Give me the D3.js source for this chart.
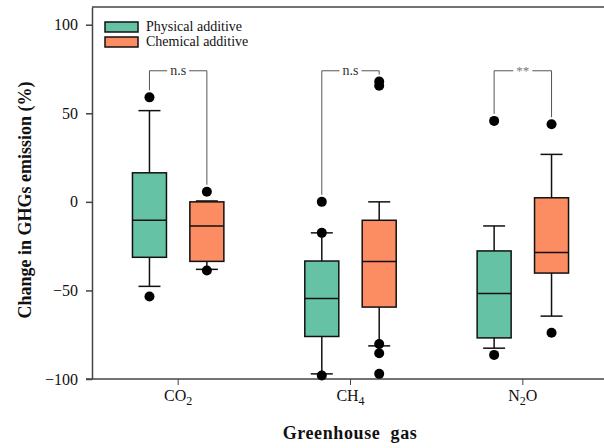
<!DOCTYPE html>
<html>
<head>
<meta charset="utf-8">
<script src="https://cdn.jsdelivr.net/npm/d3@7"></script>
<style>
  body { margin: 0; background: #fff; overflow: hidden; }
  svg { font-family: "Liberation Serif", "Times New Roman", serif; display: block; }
</style>
</head>
<body>
<div id="chart"></div>
<script>
// gases on the x axis
var gases = ['CO2', 'CH4', 'N2O'];
var gasLabels = [['CO', '2', ''], ['CH', '4', ''], ['N', '2', 'O']];
var treatments = ['Physical additive', 'Chemical additive'];
var colors = ['#66c2a5', '#fc8d62'];

// [lower whisker, q1, median, q3, upper whisker]
var physicalStats = [
    [-47.7, -31.3, -10.4, 16.4, 51.5],
    [-97.1, -76.0, -54.5, -33.4, -17.5],
    [-82.6, -76.8, -51.7, -27.7, -13.6]
];
var chemicalStats = [
    [-38.1, -33.6, -13.6, 0.0, 0.5],
    [-81.3, -59.4, -33.7, -10.4, 0.0],
    [-64.5, -40.2, -28.6, 2.3, 26.8]
];
var physicalOutliers = [[59, -53.4], [0, -17.5, -98], [45.7, -86.4]];
var chemicalOutliers = [[5.7, -38.7], [67.9, 65.5, -80.2, -85.5, -97.1], [43.8, -73.9]];
var significance = ['n.s', 'n.s', '**'];

var yTicks = [-100, -50, 0, 50, 100];

var width = 604, height = 448;
var svg = d3.select('#chart').append('svg')
    .attr('width', width)
    .attr('height', height);

var y = d3.scaleLinear().domain([-100, 110]).range([379, 7]);
var x = d3.scaleBand().domain(gases).range([92, 609]).padding(0);
var offset = d3.scaleOrdinal().domain(treatments).range([-28.7, 28.7]);
var boxW = 34, capW = 22;

// frame: only left, top and bottom lines, plot runs off the right edge
svg.append('path')
    .attr('d', 'M92,' + y(110) + 'H' + (width + 10))
    .attr('fill', 'none')
    .attr('stroke', '#444').attr('stroke-width', 1.5);

var yAxis = d3.axisLeft(y).tickValues(yTicks).tickSize(6).tickSizeOuter(0).tickPadding(8);
var gy = svg.append('g').attr('transform', 'translate(92,0)').call(yAxis);
gy.selectAll('path, line').attr('stroke', '#444').attr('stroke-width', 1.5);
gy.selectAll('text').attr('font-size', 16).attr('font-family', 'Liberation Serif').attr('fill', '#111');

var xAxis = d3.axisBottom(x).tickSize(6).tickSizeOuter(0).tickFormat('');
var gx = svg.append('g').attr('transform', 'translate(0,' + y(-100) + ')').call(xAxis);
gx.select('.domain').remove();
gx.selectAll('line').attr('stroke', '#444').attr('stroke-width', 1);
gx.append('path')
    .attr('d', 'M86,0H' + (width + 10))
    .attr('fill', 'none')
    .attr('stroke', '#444').attr('stroke-width', 1.5);

// tick labels with subscripts
var xl = svg.append('g').selectAll('text')
    .data(gases)
    .enter()
    .append('text')
    .attr('x', function(d) { return x(d) + x.bandwidth() / 2; })
    .attr('y', 401)
    .attr('text-anchor', 'middle')
    .attr('font-size', 16)
    .attr('fill', '#111');
xl.each(function(d, i) {
    var t = d3.select(this), parts = gasLabels[i];
    t.append('tspan').text(parts[0]);
    t.append('tspan').attr('font-size', 12).attr('dy', 4).text(parts[1]);
    if (parts[2]) t.append('tspan').attr('dy', -4).text(parts[2]);
});

// boxes
var series = [
    { name: treatments[0], stats: physicalStats, outliers: physicalOutliers, color: colors[0] },
    { name: treatments[1], stats: chemicalStats, outliers: chemicalOutliers, color: colors[1] }
];

series.forEach(function(s) {
    var g = svg.append('g');
    gases.forEach(function(gas, i) {
        var cx = x(gas) + x.bandwidth() / 2 + offset(s.name);
        var st = s.stats[i];
        // whiskers
        g.append('line').attr('x1', cx).attr('x2', cx).attr('y1', y(st[3])).attr('y2', y(st[4]))
            .attr('stroke', '#111').attr('stroke-width', 1.5);
        g.append('line').attr('x1', cx).attr('x2', cx).attr('y1', y(st[1])).attr('y2', y(st[0]))
            .attr('stroke', '#111').attr('stroke-width', 1.5);
        [st[0], st[4]].forEach(function(v) {
            g.append('line').attr('x1', cx - capW / 2).attr('x2', cx + capW / 2)
                .attr('y1', y(v)).attr('y2', y(v))
                .attr('stroke', '#111').attr('stroke-width', 1.5);
        });
        g.append('rect')
            .attr('x', cx - boxW / 2).attr('width', boxW)
            .attr('y', y(st[3])).attr('height', y(st[1]) - y(st[3]))
            .attr('fill', s.color).attr('stroke', '#111').attr('stroke-width', 1.5);
        g.append('line').attr('x1', cx - boxW / 2).attr('x2', cx + boxW / 2)
            .attr('y1', y(st[2])).attr('y2', y(st[2]))
            .attr('stroke', '#111').attr('stroke-width', 1.5);
        g.selectAll(null)
            .data(s.outliers[i])
            .enter()
            .append('circle')
            .attr('cx', cx)
            .attr('cy', function(d) { return y(d); })
            .attr('r', 5)
            .attr('fill', '#000');
    });
});

// significance brackets
var bracketY = y(74);
gases.forEach(function(gas, i) {
    var c = x(gas) + x.bandwidth() / 2;
    var x1 = c + offset(treatments[0]), x2 = c + offset(treatments[1]);
    var top1 = d3.max(physicalStats[i].concat(physicalOutliers[i]));
    var top2 = d3.max(chemicalStats[i].concat(chemicalOutliers[i]));
    var mid = (x1 + x2) / 2;
    var label = svg.append('text')
        .attr('x', mid).attr('y', bracketY + 4)
        .attr('text-anchor', 'middle')
        .attr('font-size', significance[i] === '**' ? 13 : 14)
        .attr('fill', significance[i] === '**' ? '#777' : '#333')
        .text(significance[i]);
    var half = label.node().getComputedTextLength() / 2 + 3;
    var path = 'M' + x1 + ',' + (y(top1) - 7) + 'V' + bracketY + 'H' + (mid - half) +
        'M' + (mid + half) + ',' + bracketY + 'H' + x2 + 'V' + (y(top2) - 7);
    svg.append('path').attr('d', path).attr('fill', 'none')
        .attr('stroke', '#555').attr('stroke-width', 1);
});

// legend
var legend = svg.append('g').selectAll('g')
    .data(treatments)
    .enter()
    .append('g')
    .attr('transform', function(d, i) { return 'translate(105,' + (22 + i * 15) + ')'; });
legend.append('rect')
    .attr('width', 33).attr('height', 10)
    .attr('fill', function(d, i) { return colors[i]; })
    .attr('stroke', '#111').attr('stroke-width', 1.5);
legend.append('text')
    .attr('x', 41).attr('y', 9)
    .attr('font-size', 14)
    .attr('fill', '#111')
    .text(function(d) { return d; });

// axis titles
svg.append('text')
    .attr('transform', 'translate(31,200) rotate(-90)')
    .attr('text-anchor', 'middle')
    .attr('font-size', 18)
    .attr('font-weight', 'bold')
    .attr('fill', '#111')
    .text('Change in GHGs emission (%)');

svg.append('text')
    .attr('x', 350).attr('y', 439)
    .attr('text-anchor', 'middle')
    .attr('font-size', 18)
    .attr('font-weight', 'bold')
    .attr('letter-spacing', 0.6)
    .attr('fill', '#111')
    .style('white-space', 'pre')
    .text('Greenhouse  gas');

// keep the right edge open, as in the original
svg.append('rect')
    .attr('x', width - 6).attr('y', y(110) + 2)
    .attr('width', 6).attr('height', y(-100) - y(110) - 4)
    .attr('fill', '#fff');
</script>
</body>
</html>
